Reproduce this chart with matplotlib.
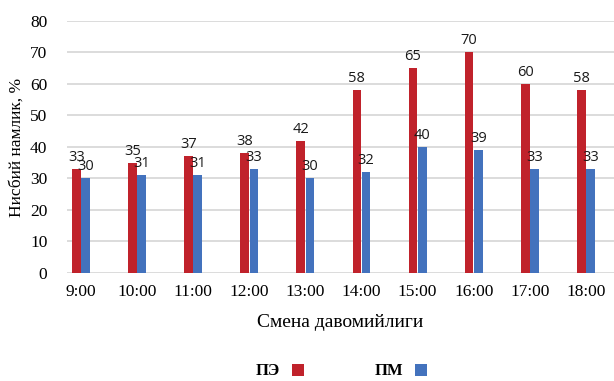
import matplotlib
matplotlib.use("Agg")
import matplotlib.pyplot as plt
import numpy as np

categories = ["9:00", "10:00", "11:00", "12:00", "13:00", "14:00", "15:00", "16:00", "17:00", "18:00"]
pe_values = [33, 35, 37, 38, 42, 58, 65, 70, 60, 58]
pm_values = [30, 31, 31, 33, 30, 32, 40, 39, 33, 33]
series_names = ["ПЭ", "ПМ"]

red = "#C0222B"
blue = "#4372BD"
serif = "Liberation Serif"

fig = plt.figure(figsize=(6.14, 3.81), dpi=100)
ax = fig.add_axes([0.109, 0.2835, 0.891, 0.6615])

x = np.arange(len(categories))
w = 0.155
b1 = ax.bar(x - 0.082, pe_values, w, color=red, label=series_names[0], zorder=3)
b2 = ax.bar(x + 0.082, pm_values, w, color=blue, label=series_names[1], zorder=3)

for bars, vals in ((b1, pe_values), (b2, pm_values)):
    for rect, v in zip(bars, vals):
        ax.annotate(str(v), (rect.get_x() + rect.get_width() / 2, v),
                    xytext=(0, 3), textcoords="offset points",
                    ha="center", va="bottom", fontsize=10.5,
                    family="Open Sans", color="#1a1a1a", zorder=4)

ax.set_xlim(-0.25, 9.5)
ax.set_ylim(0, 80)
ax.set_yticks(range(0, 81, 10))
ax.set_xticks(x)
ax.set_xticklabels(categories)
for lab in ax.get_xticklabels() + ax.get_yticklabels():
    lab.set_family(serif)
    lab.set_fontsize(12.5)
ax.tick_params(length=0, pad=8)
ax.tick_params(axis="y", pad=14)

ax.grid(axis="y", color="#D9D9D9", lw=1.3, zorder=0)
for s in ax.spines.values():
    s.set_visible(False)

ax.set_ylabel("Нисбий намлик, %", family=serif, fontsize=12.5, labelpad=4)
ax.set_xlabel("Смена давомийлиги", family=serif, fontsize=14, labelpad=10)

leg = fig.legend(handles=[b1, b2], labels=series_names, loc="center",
                 bbox_to_anchor=(0.556, 0.025), ncol=2, frameon=False,
                 markerfirst=False, handlelength=0.72, handleheight=0.72,
                 columnspacing=4.25, handletextpad=0.72, borderpad=0,
                 prop={"family": serif, "size": 12, "weight": "bold"})

fig.savefig("out.png", dpi=100)
